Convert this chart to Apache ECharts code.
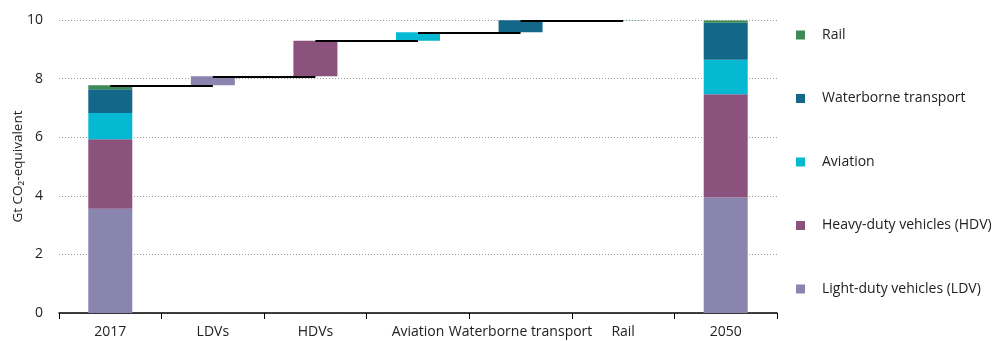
<!DOCTYPE html>
<html>
<head>
<meta charset="utf-8">
<script src="https://cdn.jsdelivr.net/npm/echarts@6/dist/echarts.min.js"></script>
<style>html,body{margin:0;padding:0;background:#fff}#c{width:992px;height:341px}</style>
</head>
<body>
<div id="c"></div>
<script>
var categories = ['2017', 'LDVs', 'HDVs', 'Aviation', 'Waterborne transport', 'Rail', '2050'];
var seriesNames = ['Light-duty vehicles (LDV)', 'Heavy-duty vehicles (HDV)', 'Aviation', 'Waterborne transport', 'Rail'];
var values2017 = [3.56, 2.37, 0.90, 0.81, 0.13];
var changes = [0.31, 1.21, 0.29, 0.41, 0.02];
var values2050 = [3.94, 3.53, 1.17, 1.27, 0.07];
var yTicks = [0, 2, 4, 6, 8, 10];
var colors = ['#8A85AE', '#8C527E', '#06B9D2', '#136789', '#3E8A55'];

// build waterfall
var total2017 = values2017.reduce(function (a, b) { return a + b; }, 0);
var base = [0];
var levels = [total2017];
var run = total2017;
for (var i = 0; i < changes.length; i++) {
  base.push(run);
  run += changes[i];
  levels.push(run);
}
base.push(0);

var series = [{
  name: 'base', type: 'bar', stack: 'a', barWidth: 44, silent: true,
  itemStyle: { color: 'transparent' }, data: base
}];
for (var s = 0; s < seriesNames.length; s++) {
  var d = [values2017[s]];
  for (var k = 0; k < changes.length; k++) d.push(k === s ? changes[k] : '-');
  d.push(values2050[s]);
  series.push({
    name: seriesNames[s], type: 'bar', stack: 'a', barWidth: 44,
    itemStyle: { color: colors[s] }, data: d
  });
}
var ml = [];
for (var j = 0; j < 6; j++) {
  ml.push([{ coord: [j, levels[j]] }, { coord: [j + 1, levels[j]] }]);
}
series.push({
  name: 'connectors', type: 'line', data: categories.map(function () { return '-'; }),
  silent: true,
  markLine: {
    silent: true, symbol: ['none', 'none'], animation: false,
    label: { show: false },
    lineStyle: { color: '#000', width: 2, type: 'solid' },
    data: ml
  }
});

var font = 'Open Sans';
var chart = echarts.init(document.getElementById('c'));
chart.setOption({
  animation: false,
  grid: { left: 59, right: 215, top: 20, bottom: 28, outerBoundsMode: 'none', containLabel: false },
  legend: {
    orient: 'vertical', left: 796, top: 28, padding: 0,
    itemWidth: 9, itemHeight: 9, itemGap: 49.5,
    icon: 'rect',
    data: seriesNames.slice().reverse(),
    textStyle: { fontFamily: font, fontSize: 14, color: '#222', lineHeight: 14, padding: [0, 0, 0, 12] }
  },
  xAxis: {
    type: 'category', data: categories,
    axisLine: { lineStyle: { color: '#000', width: 1.5 } },
    axisTick: { show: true, length: 6, lineStyle: { color: '#000' } },
    axisLabel: { interval: 0, margin: 12, fontFamily: font, fontSize: 14, color: '#222' }
  },
  yAxis: {
    type: 'value', min: yTicks[0], max: yTicks[yTicks.length - 1], interval: 2,
    name: 'Gt CO\u2082-equivalent', nameLocation: 'middle', nameGap: 34, nameRotate: 90,
    nameMoveOverlap: false,
    nameTextStyle: { fontFamily: font, fontSize: 13.5, color: '#222' },
    axisLine: { show: false }, axisTick: { show: false },
    axisLabel: { margin: 16, fontFamily: font, fontSize: 14, color: '#222' },
    splitLine: { lineStyle: { color: '#999', type: [1, 2], width: 1 } }
  },
  series: series
});
</script>
</body>
</html>
